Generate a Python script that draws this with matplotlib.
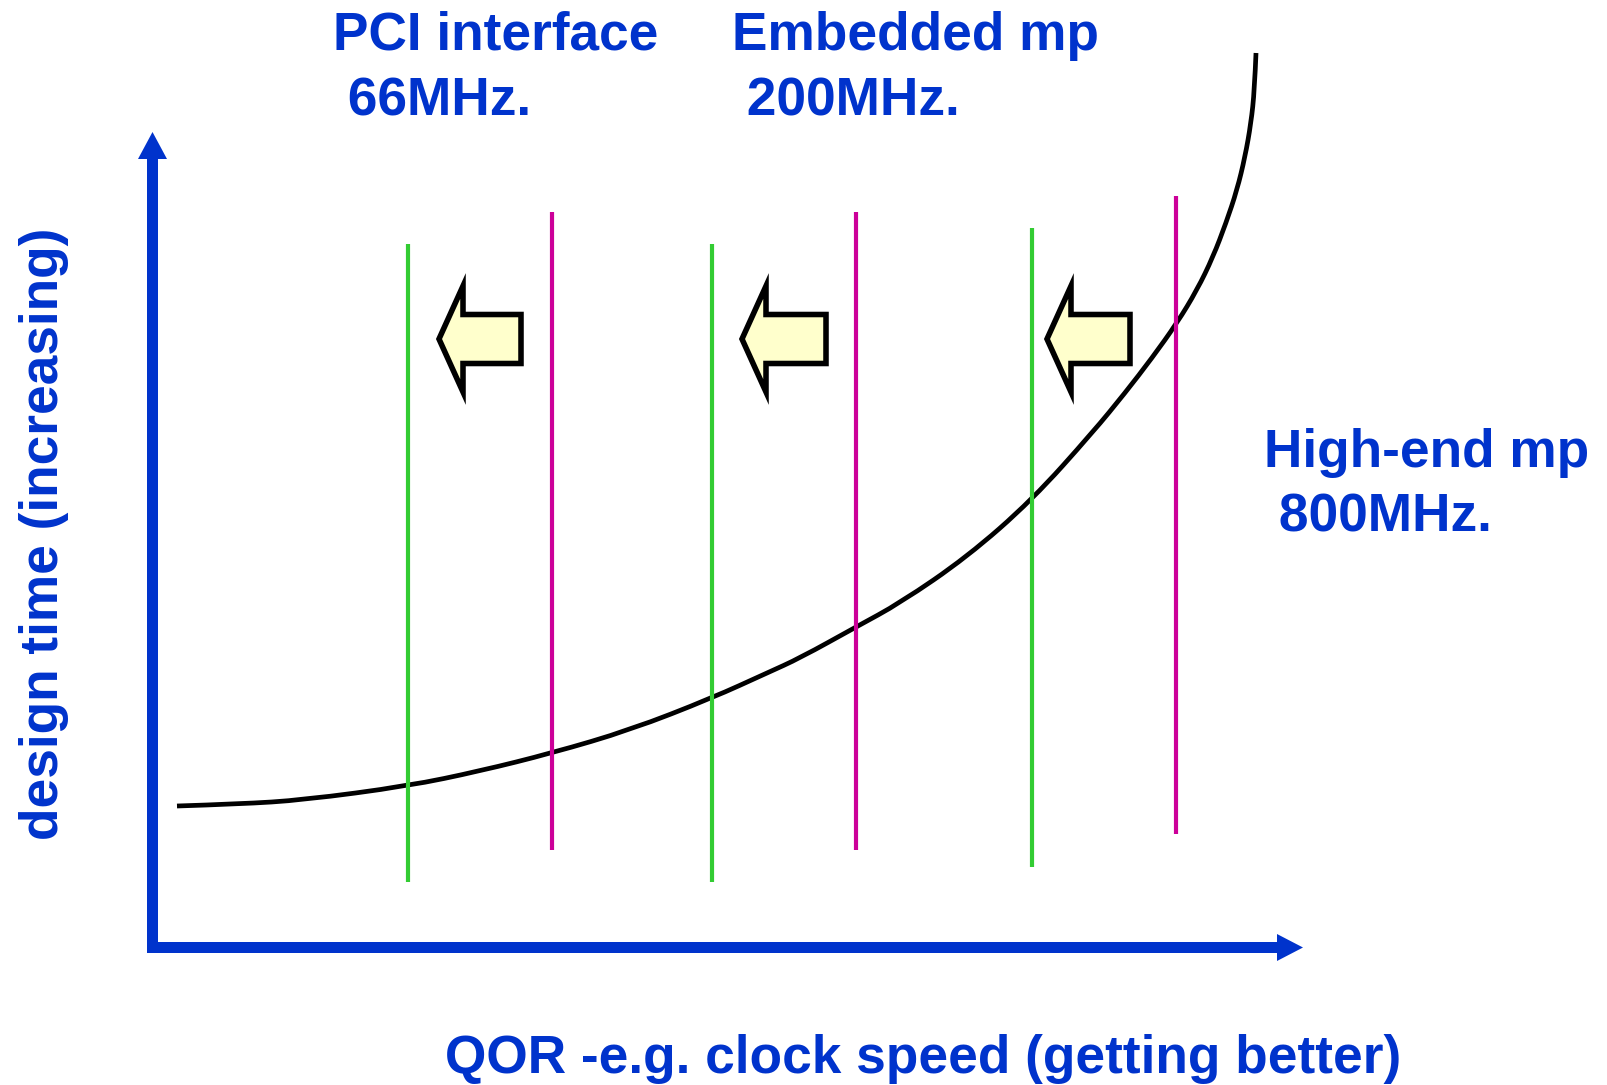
import matplotlib
matplotlib.use('Agg')
import matplotlib.pyplot as plt
from matplotlib.patches import FancyArrow, PathPatch
from matplotlib.path import Path

# pixel-space canvas, y grows downward like the picture
W, H = 1608, 1085

# design-time curve
curve_x = [177, 240, 303, 408, 480, 552, 630, 712, 767, 800, 856, 900,
           967, 1032, 1093, 1125, 1152, 1177, 1197, 1213, 1226, 1237,
           1245, 1251, 1254.5, 1256]
curve_y = [806, 804, 800, 786, 771, 753, 730, 698, 673, 658, 627, 603,
           557, 500, 432, 393, 358, 323, 290, 257, 223, 190,
           157, 123, 90, 53]

# vertical markers: green = achieved, magenta = target
green_x = [408, 712, 1032]
green_top = [244, 244, 228]
green_bot = [882, 882, 867]
magenta_x = [552, 856, 1176]
magenta_top = [212, 212, 196]
magenta_bot = [850, 850, 834]

# block arrows pointing left (tip x, shaft end x)
arrow_tip = [439, 742, 1047]
arrow_end = [521, 826, 1130]
arrow_y = 339

labels = [('PCI interface', ' 66MHz.', 333),
          ('Embedded mp', ' 200MHz.', 732)]
highend = ('High-end mp', ' 800MHz.')
xlabel = 'QOR -e.g. clock speed (getting better)'
ylabel = 'design time (increasing)'

blue = '#0033CC'
plt.rcParams['font.family'] = ['Liberation Sans', 'DejaVu Sans']

fig = plt.figure(figsize=(W / 100, H / 100), dpi=100)
ax = fig.add_axes([0, 0, 1, 1])
ax.set_xlim(0, W)
ax.set_ylim(H, 0)
ax.axis('off')

# axes drawn as thick blue arrows
ax.add_patch(FancyArrow(152.5, 952, 0, 132 - 952, width=11, head_width=29,
                        head_length=27, length_includes_head=True,
                        color=blue, lw=0))
ax.add_patch(FancyArrow(147, 947.5, 1303 - 147, 0, width=11, head_width=27,
                        head_length=26, length_includes_head=True,
                        color=blue, lw=0))

for x, t, b in zip(green_x, green_top, green_bot):
    ax.plot([x, x], [t, b], color='#33CC33', lw=3, solid_capstyle='butt')
for x, t, b in zip(magenta_x, magenta_top, magenta_bot):
    ax.plot([x, x], [t, b], color='#CC0099', lw=3, solid_capstyle='butt')

# smooth curve: read points as quadratic control points, midpoints on curve
pts = list(zip(curve_x, curve_y))
verts = [pts[0]]
codes = [Path.MOVETO]
for i in range(1, len(pts) - 1):
    mid = ((pts[i][0] + pts[i + 1][0]) / 2, (pts[i][1] + pts[i + 1][1]) / 2)
    if i == len(pts) - 2:
        mid = pts[-1]
    verts += [pts[i], mid]
    codes += [Path.CURVE3, Path.CURVE3]
ax.add_patch(PathPatch(Path(verts, codes), facecolor='none',
                       edgecolor='black', lw=3.4, capstyle='butt'))

for tip, end in zip(arrow_tip, arrow_end):
    ax.add_patch(FancyArrow(end, arrow_y, tip - end, 0, width=49,
                            head_width=106, head_length=24,
                            length_includes_head=True,
                            facecolor='#FFFFCC', edgecolor='black', lw=4,
                            joinstyle='miter', zorder=3))

tkw = dict(color=blue, fontsize=38.3, fontweight='bold', va='baseline', ha='left')
for l1, l2, x in labels:
    ax.text(x, 50, l1, **tkw)
    ax.text(x, 115, l2, **tkw)
ax.text(1264, 467, highend[0], **tkw)
ax.text(1264, 531, highend[1], **tkw)
ax.text(445, 1073, xlabel, **tkw)
ax.text(44, 534, ylabel, color=blue, fontsize=38.3, fontweight='bold',
        rotation=90, va='center', ha='center', rotation_mode='anchor')

fig.savefig('out.png', dpi=100)
